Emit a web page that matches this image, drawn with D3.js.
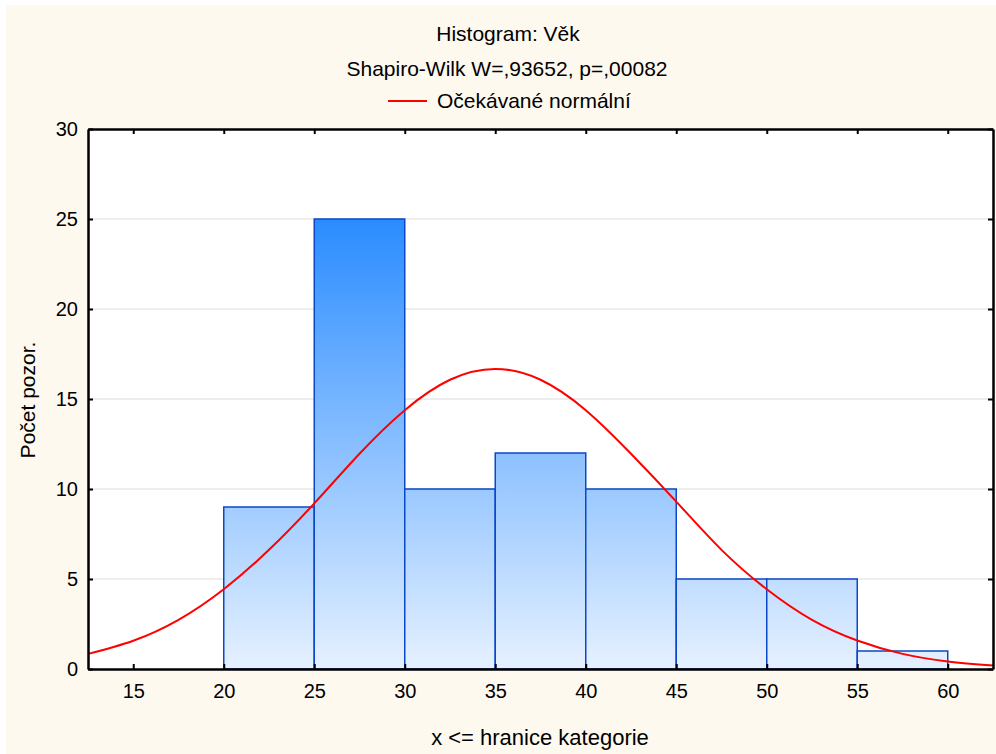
<!DOCTYPE html>
<html>
<head>
<meta charset="utf-8">
<script src="https://cdn.jsdelivr.net/npm/d3@7"></script>
<style>
  body { margin: 0; background: #ffffff; }
  text { font-family: "Liberation Sans", Arial, sans-serif; fill: #000; }
</style>
</head>
<body>
<div id="chart"></div>
<script>
// bins (upper bounds), counts
var binStarts = [20, 25, 30, 35, 40, 45, 50, 55];
var binWidth = 5;
var counts = [9, 25, 10, 12, 10, 5, 5, 1];

// expected normal curve
var curveX = [12.5, 15, 17.5, 20, 22.5, 25, 27.5, 30, 32.5, 35, 37.5, 40, 42.5, 45, 47.5, 50, 52.5, 55, 57.5, 60, 62.5];
var curveY = [0.84, 1.57, 2.73, 4.43, 6.62, 9.2, 11.96, 14.38, 16.07, 16.67, 16.07, 14.38, 11.96, 9.3, 6.62, 4.43, 2.73, 1.58, 0.84, 0.42, 0.19];

var xTicks = [15, 20, 25, 30, 35, 40, 45, 50, 55, 60];
var yTicks = [0, 5, 10, 15, 20, 25, 30];

var W = 996, H = 754;
var margin = { top: 129, right: 3, bottom: 85, left: 88 };
var width = W - margin.left - margin.right,
    height = H - margin.top - margin.bottom;

var svg = d3.select("#chart").append("svg")
    .attr("width", W)
    .attr("height", H);

// cream background
svg.append("rect")
    .attr("x", 6).attr("y", 5)
    .attr("width", W - 6).attr("height", H - 5)
    .attr("fill", "#fdf9ef");

var x = d3.scaleLinear().domain([12.5, 62.5]).range([0, width]);
var y = d3.scaleLinear().domain([0, 30]).range([height, 0]);

var defs = svg.append("defs");
var grad = defs.append("linearGradient")
    .attr("id", "barGrad")
    .attr("gradientUnits", "userSpaceOnUse")
    .attr("x1", 0).attr("x2", 0)
    .attr("y1", y(25)).attr("y2", y(0));
grad.append("stop").attr("offset", "0%").attr("stop-color", "#2a8cff");
grad.append("stop").attr("offset", "100%").attr("stop-color", "#e6f1ff");

var g = svg.append("g")
    .attr("transform", "translate(" + margin.left + "," + margin.top + ")");

g.append("rect")
    .attr("width", width).attr("height", height)
    .attr("fill", "#ffffff");

// gridlines
g.append("g")
    .selectAll("line")
    .data(yTicks.filter(function (d) { return d > 0 && d < 30; }))
    .enter()
    .append("line")
    .attr("x1", 0).attr("x2", width)
    .attr("y1", function (d) { return y(d); })
    .attr("y2", function (d) { return y(d); })
    .attr("stroke", "#dcdcdc")
    .attr("stroke-width", 1);

// bars
g.append("g")
    .selectAll("rect")
    .data(counts)
    .enter()
    .append("rect")
    .attr("x", function (d, i) { return x(binStarts[i]); })
    .attr("y", function (d) { return y(d); })
    .attr("width", function (d, i) { return x(binStarts[i] + binWidth) - x(binStarts[i]); })
    .attr("height", function (d) { return y(0) - y(d); })
    .attr("fill", "url(#barGrad)")
    .attr("stroke", "#0a48c8")
    .attr("stroke-width", 1.5);

// normal curve
var pts = curveX.map(function (v, i) { return [v, curveY[i]]; });
g.append("path")
    .datum(pts)
    .attr("fill", "none")
    .attr("stroke", "#ff0000")
    .attr("stroke-width", 2)
    .attr("d", d3.line()
        .x(function (d) { return x(d[0]); })
        .y(function (d) { return y(d[1]); })
        .curve(d3.curveNatural));

// axes (ticks pointing inward)
var fs = "20px";
var axBottom = g.append("g")
    .attr("transform", "translate(0," + height + ")")
    .call(d3.axisBottom(x).tickValues(xTicks).tickSizeInner(-5).tickSizeOuter(0).tickPadding(15));
var axTop = g.append("g")
    .call(d3.axisTop(x).tickValues(xTicks).tickSizeInner(-5).tickSizeOuter(0).tickFormat(""));
var axLeft = g.append("g")
    .call(d3.axisLeft(y).tickValues(yTicks).tickSizeInner(-5).tickSizeOuter(0).tickPadding(10));
var axRight = g.append("g")
    .attr("transform", "translate(" + width + ",0)")
    .call(d3.axisRight(y).tickValues(yTicks).tickSizeInner(-5).tickSizeOuter(0).tickFormat(""));

[axBottom, axTop, axLeft, axRight].forEach(function (a) {
    a.select(".domain").attr("stroke", "#000").attr("stroke-width", 2.5);
    a.selectAll(".tick line").attr("stroke", "#000").attr("stroke-width", 2);
    a.selectAll(".tick text")
        .style("font-family", "Liberation Sans, Arial, sans-serif")
        .style("font-size", fs)
        .attr("fill", "#000");
});
axBottom.selectAll(".tick text").attr("dy", "0.71em");

// titles
svg.append("text")
    .attr("x", 508).attr("y", 41)
    .attr("text-anchor", "middle")
    .style("font-size", "21px")
    .text("Histogram: Věk");

svg.append("text")
    .attr("x", 507).attr("y", 76)
    .attr("text-anchor", "middle")
    .style("font-size", "21px")
    .text("Shapiro-Wilk W=,93652, p=,00082");

svg.append("line")
    .attr("x1", 388).attr("x2", 427)
    .attr("y1", 101).attr("y2", 101)
    .attr("stroke", "#ff0000")
    .attr("stroke-width", 2);
svg.append("text")
    .attr("x", 437).attr("y", 108)
    .style("font-size", "21px")
    .text("Očekávané normální");

svg.append("text")
    .attr("x", 540).attr("y", 745)
    .attr("text-anchor", "middle")
    .style("font-size", "22px")
    .text("x <= hranice kategorie");

svg.append("text")
    .attr("transform", "translate(35,400) rotate(-90)")
    .attr("text-anchor", "middle")
    .style("font-size", "21px")
    .text("Počet pozor.");
</script>
</body>
</html>
